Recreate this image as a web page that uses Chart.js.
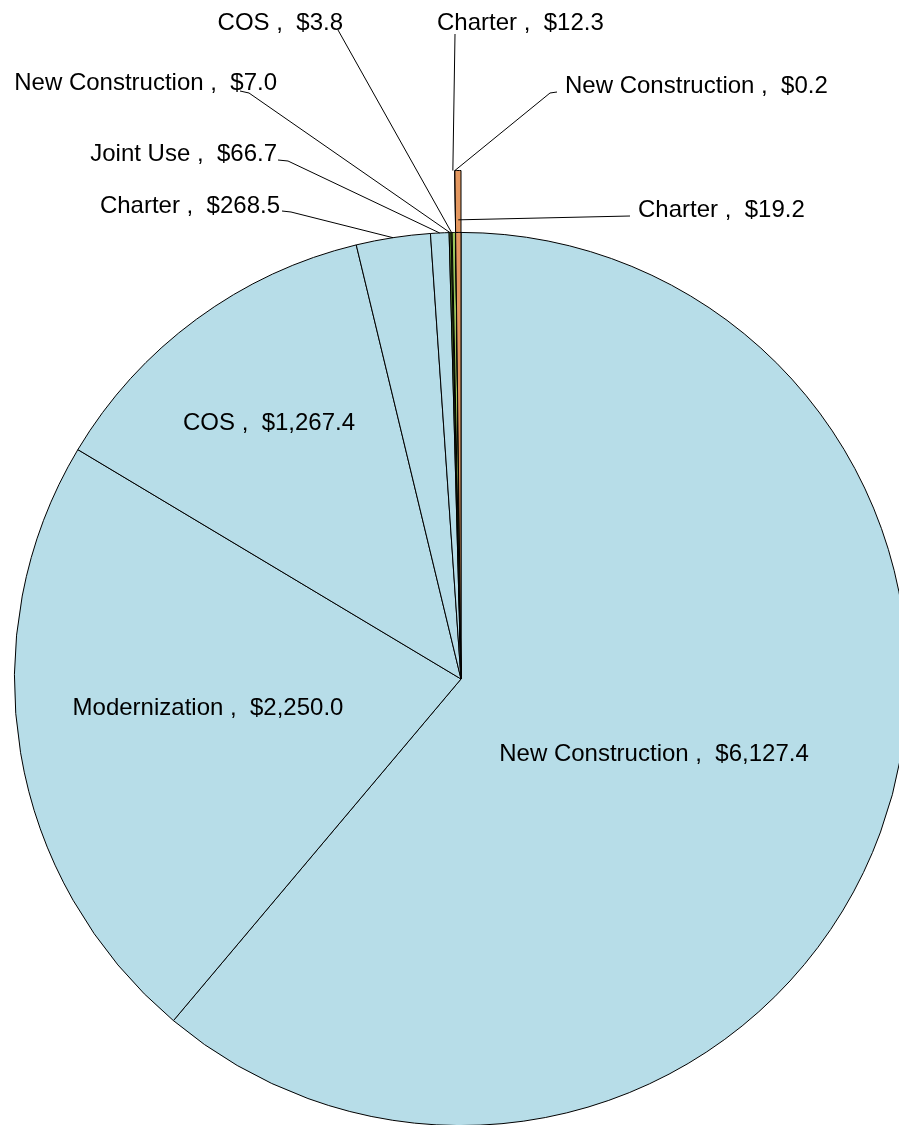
<!DOCTYPE html>
<html>
<head>
<meta charset="utf-8">
<script src="https://cdn.jsdelivr.net/npm/chart.js@4.4.1/dist/chart.umd.min.js"></script>
<style>
html,body{margin:0;padding:0;background:#ffffff;overflow:hidden;width:899px;height:1125px;}
#wrap{position:absolute;left:-48px;top:0;width:1018px;height:1188px;}
canvas{display:block;}
</style>
</head>
<body>
<div id="wrap"><canvas id="c" width="1018" height="1188" style="width:1018px;height:1188px"></canvas></div>
<script>
// ---- data ----
const categories = ['New Construction','Modernization','COS','Charter','Joint Use','New Construction','COS','Charter','New Construction','Charter'];
const values = [6127.4, 2250.0, 1267.4, 268.5, 66.7, 7.0, 3.8, 12.3, 0.2, 19.2];
const sliceColors = ['#B7DDE8','#B7DDE8','#B7DDE8','#B7DDE8','#B7DDE8','#5E8A2E','#9BC65A','#9BC65A','#E3975F','#E3975F'];
const raised = [false,false,false,false,false,false,false,false,true,true];

// label layout (relative to pie centre, px)
const insideLabels = [
  {i:0, dx:193, dy:82},
  {i:1, dx:-253, dy:36},
  {i:2, dx:-192, dy:-249}
];
const outsideLabels = [
  {i:3, tx:-181, ty:-466, align:'right', pts:[[-179,-468],[-170,-467]], ar:0.878},
  {i:4, tx:-184, ty:-518, align:'right', pts:[[-183,-519],[-173,-518]], ar:0.878},
  {i:5, tx:-184, ty:-589, align:'right', pts:[[-221,-588],[-212,-586]], ar:0.878},
  {i:6, tx:-118, ty:-649, align:'right', pts:[[-123,-649]], ar:0.878},
  {i:7, tx:-24,  ty:-649, align:'left',  pts:[[-6,-645]], ar:1.0},
  {i:8, tx:104,  ty:-586, align:'left',  pts:[[96,-587],[89,-586]], ar:1.0},
  {i:9, tx:177,  ty:-462, align:'left',  pts:[[169,-463]], ar:0.903}
];

function fmt(v){
  return '$' + v.toLocaleString('en-US',{minimumFractionDigits:1,maximumFractionDigits:1});
}
function labelText(i){ return categories[i] + ' ,  ' + fmt(values[i]); }

const FONT = '24px "Liberation Sans", Arial, sans-serif';

const labelPlugin = {
  id:'pieLabels',
  afterDatasetsDraw(chart){
    const ctx = chart.ctx;
    const inner = chart.getDatasetMeta(1).data;
    const outer = chart.getDatasetMeta(0).data;
    const cx = inner[0].x, cy = inner[0].y;
    const rMax = outer[0].outerRadius;
    ctx.save();
    ctx.font = FONT;
    ctx.fillStyle = '#000';
    ctx.textBaseline = 'alphabetic';
    ctx.textAlign = 'center';
    insideLabels.forEach(l=>{
      ctx.fillText(labelText(l.i), cx + l.dx, cy + l.dy);
    });
    ctx.strokeStyle = '#000';
    ctx.lineWidth = 1;
    outsideLabels.forEach(l=>{
      const a = inner[l.i];
      const mid = (a.startAngle + a.endAngle)/2;
      const ax = cx + Math.cos(mid)*rMax*l.ar;
      const ay = cy + Math.sin(mid)*rMax*l.ar;
      ctx.beginPath();
      ctx.moveTo(cx + l.pts[0][0], cy + l.pts[0][1]);
      for (let k=1;k<l.pts.length;k++) ctx.lineTo(cx + l.pts[k][0], cy + l.pts[k][1]);
      ctx.lineTo(ax, ay);
      ctx.stroke();
      ctx.textAlign = l.align;
      ctx.fillText(labelText(l.i), cx + l.tx, cy + l.ty);
    });
    ctx.restore();
  }
};

new Chart(document.getElementById('c'), {
  type:'pie',
  data:{
    labels: categories,
    datasets:[
      { // raised outer part of the highlighted slices
        data: values,
        weight: 62,
        backgroundColor: sliceColors.map((c,k)=> raised[k] ? c : 'rgba(0,0,0,0)'),
        borderColor: raised.map(r=> r ? '#000' : 'rgba(0,0,0,0)'),
        borderWidth: raised.map(r=> r ? 1 : 0)
      },
      {
        data: values,
        weight: 447,
        backgroundColor: sliceColors,
        borderColor: '#000',
        borderWidth: 1
      }
    ]
  },
  options:{
    responsive:false,
    animation:false,
    layout:{padding:{top:170,left:0,right:0,bottom:0}},
    plugins:{legend:{display:false}, tooltip:{enabled:false}, title:{display:false}}
  },
  plugins:[labelPlugin]
});
</script>
</body>
</html>
